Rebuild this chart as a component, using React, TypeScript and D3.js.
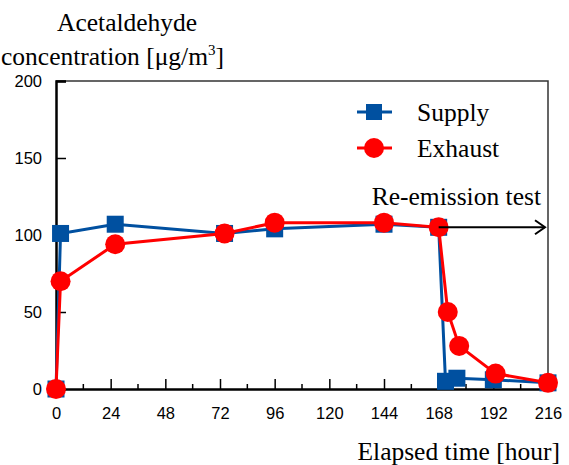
import React, { useRef, useEffect } from "react";
import * as d3 from "d3";

const supplyHours = [0, 2, 26, 74, 96, 144, 168, 171, 176, 192, 216];
const supplyValues = [0, 101, 107, 101, 104, 107, 105, 5, 7, 6, 4];
const exhaustHours = [0, 2, 26, 74, 96, 144, 168, 172, 177, 193, 216];
const exhaustValues = [0, 70, 94, 101, 108, 108, 105, 50, 28, 10, 4];
const xTicks = [0, 24, 48, 72, 96, 120, 144, 168, 192, 216];
const xMinorTicks = [12, 36, 60, 84, 108, 132, 156, 180, 204];
const yTicks = [0, 50, 100, 150, 200];
const seriesNames = ["Supply", "Exhaust"];

const BLUE = "#0050a0";
const RED = "#ff0000";

const App = () => {
  const divRef = useRef<HTMLDivElement>(null);

  useEffect(() => {
    document.body.style.margin = "0";
    const root = d3.select(divRef.current);
    root.selectAll("*").remove();

    const width = 569;
    const height = 465;
    const margin = { top: 81, left: 56, right: 21, bottom: 76 };

    const svg = root
      .append("svg")
      .attr("width", width)
      .attr("height", height)
      .style("display", "block");

    const x = d3
      .scaleLinear()
      .domain([0, 216])
      .range([margin.left, width - margin.right]);
    const y = d3
      .scaleLinear()
      .domain([0, 200])
      .range([height - margin.bottom, margin.top]);

    const serif = "'Liberation Serif', 'Times New Roman', serif";
    const sans = "'Liberation Sans', Arial, sans-serif";
    const fs = 25.5;

    // frame
    svg
      .append("path")
      .attr("d", `M${x(0)},${y(200)}H${x(216)}V${y(0)}`)
      .attr("fill", "none")
      .attr("stroke", "#333")
      .attr("stroke-width", 1.5);

    // axes
    const xAxis = svg
      .append("g")
      .attr("transform", `translate(0,${y(0)})`)
      .call(d3.axisBottom(x).tickValues(xTicks).tickSize(-10).tickPadding(18).tickFormat(d3.format("d")));
    xAxis.select(".domain").attr("stroke-width", 2.5);
    xAxis.selectAll(".tick line").attr("stroke-width", 1.5);
    xAxis.selectAll("text").attr("font-family", sans).attr("font-size", 16.5).attr("fill", "#000");

    svg
      .append("g")
      .selectAll("line")
      .data(xMinorTicks)
      .enter()
      .append("line")
      .attr("x1", (d) => x(d))
      .attr("x2", (d) => x(d))
      .attr("y1", y(0))
      .attr("y2", y(0) - 5)
      .attr("stroke", "#000")
      .attr("stroke-width", 1.5);

    const yAxis = svg
      .append("g")
      .attr("transform", `translate(${x(0)},0)`)
      .call(d3.axisLeft(y).tickValues(yTicks).tickSize(-10).tickPadding(14).tickFormat(d3.format("d")));
    yAxis.select(".domain").attr("stroke-width", 2.5);
    yAxis.selectAll(".tick line").attr("stroke-width", 1.5);
    yAxis.selectAll("text").attr("font-family", sans).attr("font-size", 16.5).attr("fill", "#000");

    // series
    const supply = supplyHours.map((h, i) => [h, supplyValues[i]] as [number, number]);
    const exhaust = exhaustHours.map((h, i) => [h, exhaustValues[i]] as [number, number]);
    const line = d3
      .line<[number, number]>()
      .x((d) => x(d[0]))
      .y((d) => y(d[1]));

    svg
      .append("path")
      .datum(supply)
      .attr("d", line)
      .attr("fill", "none")
      .attr("stroke", BLUE)
      .attr("stroke-width", 3);
    svg
      .append("g")
      .selectAll("rect")
      .data(supply)
      .enter()
      .append("rect")
      .attr("x", (d) => x(d[0]) - 8.5)
      .attr("y", (d) => y(d[1]) - 8.5)
      .attr("width", 17)
      .attr("height", 17)
      .attr("fill", BLUE);

    svg
      .append("path")
      .datum(exhaust)
      .attr("d", line)
      .attr("fill", "none")
      .attr("stroke", RED)
      .attr("stroke-width", 3);
    svg
      .append("g")
      .selectAll("circle")
      .data(exhaust)
      .enter()
      .append("circle")
      .attr("cx", (d) => x(d[0]))
      .attr("cy", (d) => y(d[1]))
      .attr("r", 10)
      .attr("fill", RED);

    // re-emission arrow
    const ay = y(105);
    svg
      .append("line")
      .attr("x1", x(168))
      .attr("x2", x(216) - 3)
      .attr("y1", ay)
      .attr("y2", ay)
      .attr("stroke", "#000")
      .attr("stroke-width", 2);
    svg
      .append("path")
      .attr("d", `M${x(216) - 13},${ay - 7}L${x(216) - 3},${ay}L${x(216) - 13},${ay + 7}`)
      .attr("fill", "none")
      .attr("stroke", "#000")
      .attr("stroke-width", 2);
    svg
      .append("text")
      .attr("x", x(216) - 7)
      .attr("y", 205)
      .attr("text-anchor", "end")
      .attr("font-family", serif)
      .attr("font-size", fs)
      .text("Re-emission test");

    // legend
    const legend = svg.append("g");
    seriesNames.forEach((name, i) => {
      const ly = 112 + i * 36;
      const color = i === 0 ? BLUE : RED;
      legend
        .append("line")
        .attr("x1", 357)
        .attr("x2", 392)
        .attr("y1", ly)
        .attr("y2", ly)
        .attr("stroke", color)
        .attr("stroke-width", 3);
      if (i === 0) {
        legend
          .append("rect")
          .attr("x", 366)
          .attr("y", ly - 8)
          .attr("width", 16)
          .attr("height", 16)
          .attr("fill", color);
      } else {
        legend.append("circle").attr("cx", 374).attr("cy", ly).attr("r", 10).attr("fill", color);
      }
      legend
        .append("text")
        .attr("x", 417)
        .attr("y", ly + 9)
        .attr("font-family", serif)
        .attr("font-size", fs)
        .text(name);
    });

    // titles
    svg
      .append("text")
      .attr("x", 57)
      .attr("y", 31)
      .attr("font-family", serif)
      .attr("font-size", fs)
      .text("Acetaldehyde");
    const t2 = svg
      .append("text")
      .attr("x", 1)
      .attr("y", 65)
      .attr("font-family", serif)
      .attr("font-size", fs);
    t2.append("tspan").text("concentration [μg/m");
    t2.append("tspan").attr("font-size", 15).attr("dy", -10).text("3");
    t2.append("tspan").attr("dy", 10).text("]");

    svg
      .append("text")
      .attr("x", 560)
      .attr("y", 460)
      .attr("text-anchor", "end")
      .attr("font-family", serif)
      .attr("font-size", fs)
      .text("Elapsed time [hour]");
  }, []);

  return <div ref={divRef}></div>;
};

export default App;
